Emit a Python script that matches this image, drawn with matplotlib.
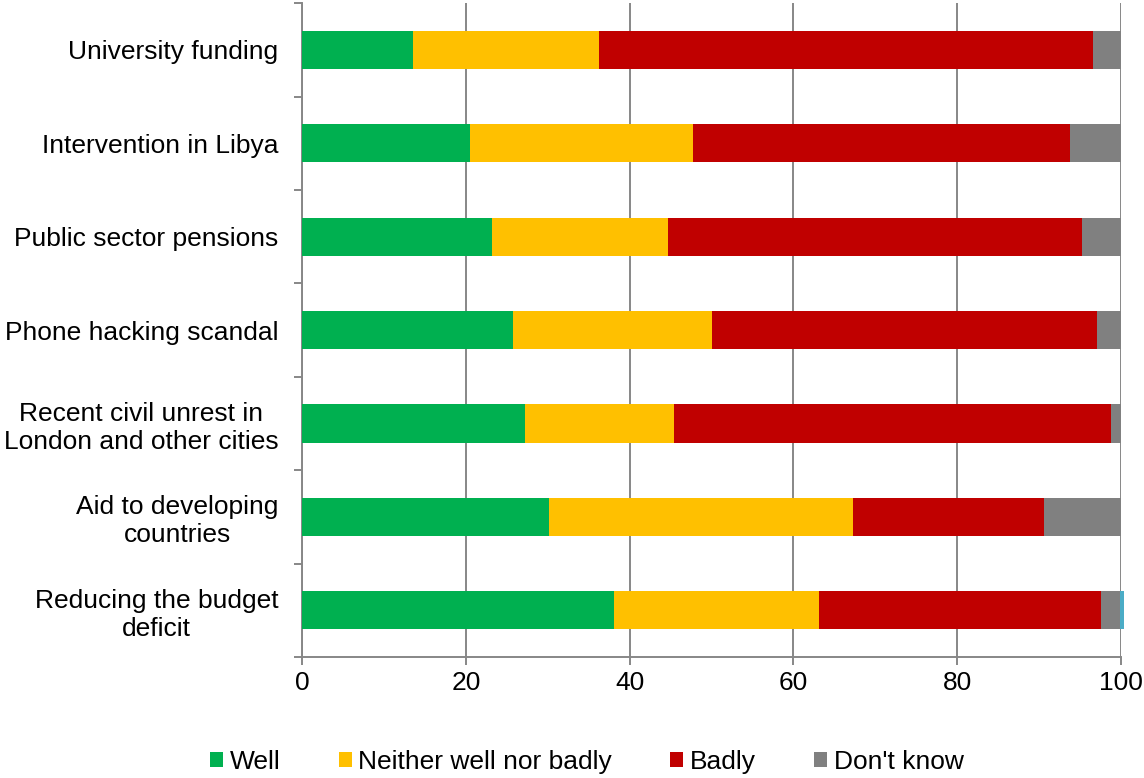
import numpy as np
import matplotlib.pyplot as plt
from matplotlib.patches import Patch
from matplotlib.ticker import FixedLocator

plt.rcParams["font.family"] = ["Liberation Sans", "DejaVu Sans"]

# --- data (percent, top to bottom) ---
categories = [
    "University funding",
    "Intervention in Libya",
    "Public sector pensions",
    "Phone hacking scandal",
    "Recent civil unrest in\nLondon and other cities",
    "Aid to developing\ncountries",
    "Reducing the budget\ndeficit",
]
well = [13.6, 20.5, 23.2, 25.8, 27.2, 30.1, 38.1]
neither = [22.7, 27.2, 21.5, 24.3, 18.2, 37.2, 25.0]
badly = [60.3, 46.0, 50.5, 46.9, 53.4, 23.3, 34.5]
dont_know = [3.4, 6.3, 4.8, 3.0, 1.2, 9.4, 2.3]
other = [0, 0, 0, 0, 0, 0, 0.5]

series = [
    ("Well", well, "#00B050"),
    ("Neither well nor badly", neither, "#FFC000"),
    ("Badly", badly, "#C00000"),
    ("Don't know", dont_know, "#808080"),
    (None, other, "#4BACC6"),
]

GRID = "#878787"
FS = 19

fig = plt.figure(figsize=(11.44, 7.78), dpi=100)
ax = fig.add_axes([0.264, 0.1555, 0.716, 0.8405])

y = np.arange(len(categories))
left = np.zeros(len(categories))
for name, vals, color in series:
    vals = np.array(vals)
    ax.barh(y, vals, left=left, height=0.41, color=color, edgecolor="none",
            zorder=3, clip_on=False)
    left += vals

ax.set_ylim(len(categories) - 0.5, -0.5)
ax.set_xlim(0, 100)
ax.set_xticks(np.arange(0, 101, 20))
ax.set_yticks(y)
ax.set_yticklabels(categories, fontsize=FS, linespacing=1.2, ha="right",
                   multialignment="center")
ax.yaxis.set_minor_locator(FixedLocator(np.arange(-0.5, len(categories), 1)))

ax.grid(axis="x", color=GRID, linewidth=1.4, zorder=0)
for side in ("top", "right"):
    ax.spines[side].set_visible(False)
for side in ("left", "bottom"):
    ax.spines[side].set_color(GRID)
    ax.spines[side].set_linewidth(1.4)

ax.tick_params(axis="y", which="major", length=0, pad=17)
ax.tick_params(axis="y", which="minor", length=6, width=1.4, color=GRID)
ax.tick_params(axis="x", length=6, width=1.4, color=GRID, labelsize=FS, pad=4)

handles = [Patch(facecolor=c, label=n) for n, _, c in series if n]
fig.legend(handles=handles, loc="center", bbox_to_anchor=(0.513, 0.021), ncol=4,
           frameon=False, fontsize=FS, handlelength=0.5, handleheight=0.5,
           handletextpad=0.25, columnspacing=2.2)

fig.savefig("out.png", dpi=100)
